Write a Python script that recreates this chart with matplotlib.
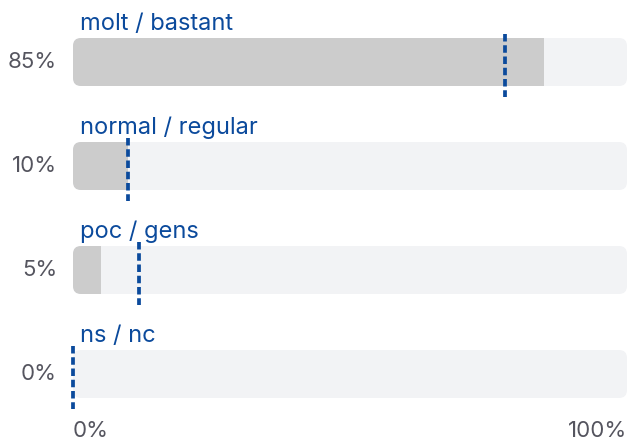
import matplotlib
matplotlib.use("Agg")
import matplotlib.pyplot as plt
from matplotlib.patches import FancyBboxPatch, Rectangle

plt.rcParams["font.family"] = ["Inter", "DejaVu Sans"]

labels = ["molt / bastant", "normal / regular", "poc / gens", "ns / nc"]
values = [85, 10, 5, 0]
pct_labels = ["85%", "10%", "5%", "0%"]
markers = [78, 10, 12, 0]

TRACK = "#f2f3f5"
FILL = "#cccccc"
BLUE = "#0b4a9c"
GREY = "#55555f"

W, H, DPI = 630, 443, 100
fig = plt.figure(figsize=(W / DPI, H / DPI), dpi=DPI)

# axis area in pixels
left_px, right_px = 73, 627
row_px = 104
first_center_px = 62
ax = fig.add_axes([left_px / W, 0, (right_px - left_px) / W, 1])
ax.set_xlim(0, 100)
top = -first_center_px / row_px
bottom = top + H / row_px
ax.set_ylim(bottom, top)
ax.axis("off")

px_x = 100 / (right_px - left_px)   # data units per pixel (x)
px_y = 1 / row_px                    # data units per pixel (y)
bar_h = 48 * px_y
rad = 8 * px_x
aspect = px_y / px_x

for i, (lab, val, pl, mk) in enumerate(zip(labels, values, pct_labels, markers)):
    y0 = i - bar_h / 2
    track = FancyBboxPatch((0, y0), 100, bar_h,
                           boxstyle=f"round,pad=0,rounding_size={rad}",
                           mutation_aspect=aspect, fc=TRACK, ec="none")
    ax.add_patch(track)
    if val > 0:
        fill = Rectangle((0, y0), val, bar_h, fc=FILL, ec="none")
        ax.add_patch(fill)
        fill.set_clip_path(track)
    ax.plot([mk, mk], [y0 - 4 * px_y, y0 + bar_h + 11 * px_y], color=BLUE,
            lw=2.7, dashes=(2.0, 1.0), dash_capstyle="butt",
            clip_on=False, zorder=5)
    ax.text(7 * px_x, y0 - 8 * px_y, lab, color=BLUE, fontsize=17,
            va="baseline", ha="left")
    ax.text(-16 * px_x, i, pl, color=GREY, fontsize=16,
            va="center", ha="right")

ax.text(0, 1 - 437 / H, "0%", transform=ax.transAxes, color=GREY,
        fontsize=16, ha="left", va="baseline")
ax.text(1, 1 - 437 / H, "100%", transform=ax.transAxes, color=GREY,
        fontsize=16, ha="right", va="baseline")

fig.savefig("out.png", dpi=DPI)
